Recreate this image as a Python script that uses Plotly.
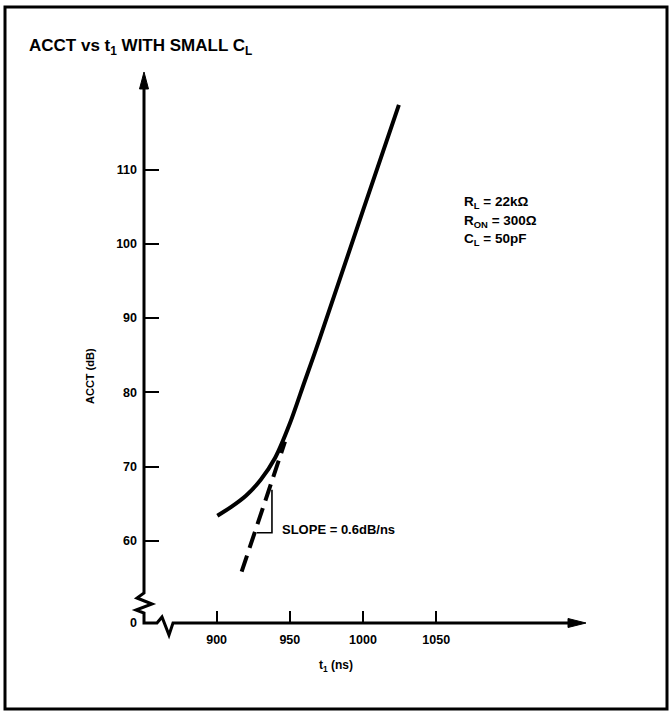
import plotly.graph_objects as go

# ---------------- data ----------------
t1_curve = [900.5, 910.0, 920.0, 930.0, 940.0, 950.0, 960.0, 970.0, 1000.0, 1024.5]
acct_curve = [63.4, 64.6, 66.1, 68.2, 71.2, 75.8, 81.4, 87.0, 104.5, 118.7]

t1_tangent = [917.1, 946.7]
acct_tangent = [55.87, 73.36]

slope_tri_x = [927.5, 937.8, 937.8]
slope_tri_y = [61.1, 61.1, 66.9]

x_tickvals = [900, 950, 1000, 1050]
x_ticktext = ["900", "950", "1000", "1050"]
y_zero_pos = 48.96  # broken axis: position where "0" sits
y_tickvals = [y_zero_pos, 60, 70, 80, 90, 100, 110]
y_ticktext = ["0", "60", "70", "80", "90", "100", "110"]

params = ["R<sub>L</sub> = 22kΩ", "R<sub>ON</sub> = 300Ω", "C<sub>L</sub> = 50pF"]

# ---------------- layout geometry ----------------
W, H = 670, 711
L, R, T, B = 144, 84, 73, 88
PW, PH = W - L - R, H - T - B
FONT = "Liberation Sans, Arial, sans-serif"


def X(p):
    return (p - L) / PW


def Y(p):
    return (H - B - p) / PH


fig = go.Figure()

fig.add_trace(go.Scatter(x=t1_curve, y=acct_curve, mode="lines",
                         line=dict(color="black", width=4, shape="spline", smoothing=0.8),
                         hoverinfo="skip", showlegend=False))
fig.add_trace(go.Scatter(x=t1_tangent, y=acct_tangent, mode="lines",
                         line=dict(color="black", width=4, dash="17px,8px"),
                         hoverinfo="skip", showlegend=False))
fig.add_trace(go.Scatter(x=slope_tri_x, y=slope_tri_y, mode="lines",
                         line=dict(color="black", width=1.6),
                         hoverinfo="skip", showlegend=False))

shapes = []
# axes with breaks
axis_pts = [(144, 86), (144, 593), (137, 598), (152, 604), (136, 610), (144, 613), (144, 623),
            (157, 623), (162, 617), (169, 635), (173, 623), (572, 623)]
path = "M " + " L ".join(f"{X(a):.5f},{Y(b):.5f}" for a, b in axis_pts)
shapes.append(dict(type="path", xref="paper", yref="paper", path=path,
                   line=dict(color="black", width=3)))
# arrow heads
ya = [(144, 72), (139.5, 89), (148.5, 89)]
xa = [(586, 623), (568, 618.5), (568, 627.5)]
for tri in (ya, xa):
    p = "M " + " L ".join(f"{X(a):.5f},{Y(b):.5f}" for a, b in tri) + " Z"
    shapes.append(dict(type="path", xref="paper", yref="paper", path=p,
                       fillcolor="black", line=dict(color="black", width=1)))
# frame
shapes.append(dict(type="rect", xref="paper", yref="paper",
                   x0=X(5), x1=X(667), y0=Y(709), y1=Y(7),
                   line=dict(color="black", width=3)))

annotations = []
annotations.append(dict(xref="paper", yref="paper", x=X(27), y=Y(47), xanchor="left", yanchor="middle",
                        text="<b>ACCT vs t<sub>1</sub> WITH SMALL C<sub>L</sub></b>", showarrow=False,
                        font=dict(family=FONT, size=17, color="black")))
annotations.append(dict(xref="paper", yref="paper", x=X(90), y=Y(376), xanchor="center", yanchor="middle",
                        text="<b>ACCT (dB)</b>", textangle=-90, showarrow=False,
                        font=dict(family=FONT, size=11, color="black")))
annotations.append(dict(xref="paper", yref="paper", x=X(336), y=Y(666), xanchor="center", yanchor="middle",
                        text="<b>t<sub>1</sub> (ns)</b>", showarrow=False,
                        font=dict(family=FONT, size=12, color="black")))
annotations.append(dict(xref="paper", yref="paper", x=X(280), y=Y(529), xanchor="left", yanchor="middle",
                        text="<b>SLOPE = 0.6dB/ns</b>", showarrow=False,
                        font=dict(family=FONT, size=13, color="black")))
for txt, yp in zip(params, [203, 222, 240]):
    annotations.append(dict(xref="paper", yref="paper", x=X(462), y=Y(yp), xanchor="left", yanchor="middle",
                            text=f"<b>{txt}</b>", showarrow=False,
                            font=dict(family=FONT, size=13.5, color="black")))

fig.update_layout(
    width=W, height=H,
    margin=dict(l=L, r=R, t=T, b=B, pad=0),
    paper_bgcolor="white", plot_bgcolor="white",
    shapes=shapes, annotations=annotations,
    xaxis=dict(range=[850.4, 1152.3], tickvals=x_tickvals, ticktext=x_ticktext,
               ticks="inside", ticklen=12, tickwidth=2, tickcolor="black",
               showgrid=False, zeroline=False, showline=False, ticklabelstandoff=7,
               tickfont=dict(family=FONT, size=12.5, color="black", weight="bold")),
    yaxis=dict(range=[48.96, 122.99], tickvals=y_tickvals, ticktext=y_ticktext,
               ticks="inside", ticklen=15, tickwidth=2, tickcolor="black",
               showgrid=False, zeroline=False, showline=False, ticklabelstandoff=6,
               tickfont=dict(family=FONT, size=12.5, color="black", weight="bold")),
)

fig.write_html("out.html", config={"displayModeBar": False},
               post_script="document.body.style.margin='0';document.body.style.padding='0';")
